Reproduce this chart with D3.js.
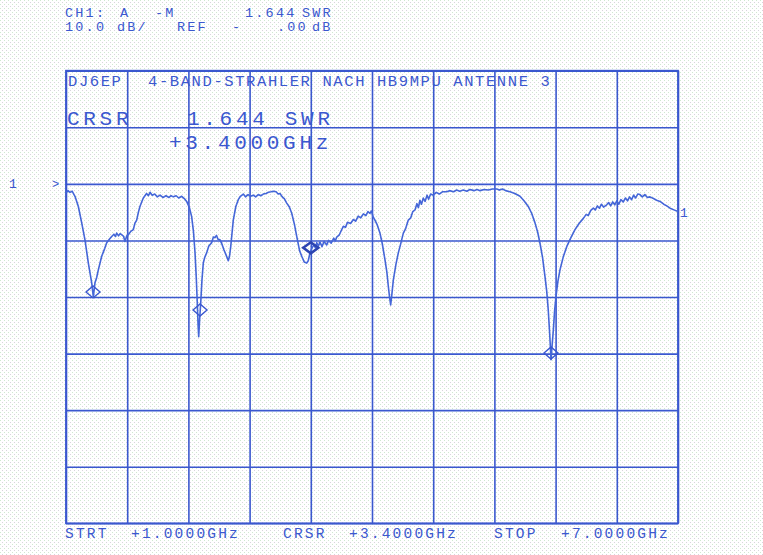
<!DOCTYPE html>
<html><head><meta charset="utf-8">
<script src="https://cdn.jsdelivr.net/npm/d3@7/dist/d3.min.js"></script>
<style>html,body{margin:0;padding:0;background:#fff;}svg{display:block;}</style>
</head><body><div id="chart"></div>
<script>
// ---- data ----
const freqGHz = [1.000,1.020,1.039,1.060,1.088,1.121,1.154,1.186,1.219,1.252,1.268,1.284,1.300,1.317,1.350,1.380,1.399,1.425,1.448,1.470,1.485,1.497,1.515,1.530,1.546,1.565,1.578,1.595,1.611,1.635,1.660,1.675,1.693,1.710,1.725,1.742,1.758,1.790,1.808,1.824,1.845,1.870,1.895,1.922,1.950,1.980,2.010,2.030,2.052,2.080,2.105,2.134,2.160,2.183,2.210,2.232,2.250,2.265,2.277,2.287,2.295,2.301,2.310,2.321,2.333,2.346,2.360,2.379,2.400,2.428,2.445,2.461,2.475,2.490,2.510,2.530,2.549,2.570,2.591,2.603,2.615,2.640,2.665,2.689,2.710,2.738,2.760,2.785,2.810,2.836,2.860,2.885,2.910,2.934,2.960,2.985,3.010,3.032,3.060,3.080,3.098,3.120,3.140,3.164,3.190,3.213,3.240,3.262,3.290,3.311,3.335,3.360,3.375,3.392,3.410,3.430,3.445,3.458,3.475,3.490,3.510,3.530,3.556,3.575,3.600,3.625,3.640,3.654,3.680,3.700,3.719,3.740,3.760,3.790,3.817,3.840,3.865,3.890,3.915,3.940,3.960,3.980,3.995,4.010,4.029,4.050,4.078,4.100,4.127,4.145,4.160,4.172,4.183,4.195,4.209,4.235,4.258,4.280,4.307,4.330,4.356,4.380,4.400,4.422,4.440,4.455,4.470,4.485,4.503,4.520,4.540,4.555,4.575,4.601,4.630,4.660,4.690,4.732,4.760,4.800,4.830,4.860,4.895,4.930,4.960,5.000,5.030,5.059,5.100,5.140,5.180,5.223,5.250,5.280,5.310,5.353,5.400,5.451,5.490,5.532,5.565,5.598,5.625,5.647,5.672,5.696,5.713,5.728,5.742,5.755,5.766,5.778,5.790,5.804,5.822,5.843,5.875,5.909,5.950,5.990,6.030,6.072,6.100,6.120,6.145,6.170,6.190,6.210,6.230,6.250,6.270,6.301,6.320,6.340,6.360,6.380,6.400,6.420,6.440,6.464,6.485,6.505,6.525,6.545,6.565,6.585,6.605,6.627,6.650,6.675,6.700,6.725,6.760,6.790,6.824,6.860,6.890,6.922,6.960,7.000];
const returnLossDb = [-1.6,-1.2,-1.5,-1.3,-2.2,-4.0,-6.9,-9.9,-14.0,-17.5,-20.0,-17.5,-16.6,-15.2,-12.8,-11.4,-10.4,-9.8,-9.3,-8.9,-9.3,-8.7,-9.2,-8.8,-9.0,-9.3,-10.2,-9.2,-9.0,-8.4,-8.1,-7.0,-6.4,-5.0,-4.0,-3.2,-2.5,-1.7,-2.1,-1.5,-2.0,-1.8,-2.3,-2.0,-2.4,-2.1,-2.4,-2.1,-2.3,-2.1,-2.5,-2.2,-2.6,-3.1,-4.2,-5.8,-8.5,-12.2,-16.5,-21.0,-25.0,-27.0,-24.0,-21.0,-17.0,-14.0,-13.0,-12.2,-11.0,-10.4,-9.4,-9.5,-9.1,-9.8,-9.9,-10.7,-11.7,-12.6,-13.6,-12.8,-11.1,-6.4,-4.0,-2.8,-2.2,-1.8,-2.3,-1.9,-2.2,-2.0,-2.3,-1.9,-2.1,-1.8,-1.7,-1.5,-1.4,-1.3,-1.4,-1.8,-1.7,-2.3,-2.6,-3.4,-4.1,-5.2,-7.2,-9.3,-11.8,-12.8,-13.8,-14.0,-13.6,-12.2,-11.4,-10.8,-11.3,-10.4,-11.0,-10.3,-11.1,-10.2,-10.8,-10.0,-10.5,-9.6,-10.1,-9.4,-9.0,-8.2,-7.5,-7.7,-6.8,-7.0,-6.3,-6.6,-5.7,-6.0,-5.3,-5.6,-4.9,-5.2,-4.8,-5.8,-6.4,-7.2,-8.7,-10.5,-13.4,-15.5,-18.1,-20.0,-21.4,-19.5,-17.0,-14.2,-12.2,-10.7,-8.7,-7.9,-6.4,-6.0,-4.9,-4.6,-3.5,-4.2,-2.9,-3.6,-2.5,-3.1,-2.0,-2.7,-1.8,-2.0,-1.5,-1.8,-1.4,-1.4,-1.2,-1.4,-1.1,-1.3,-1.1,-1.3,-1.0,-1.2,-1.0,-1.2,-1.0,-1.1,-0.9,-0.9,-1.1,-0.9,-1.2,-1.4,-1.7,-2.2,-3.0,-4.0,-5.2,-6.9,-8.6,-10.5,-13.0,-16.4,-19.0,-22.3,-26.5,-31.1,-28.5,-25.8,-22.5,-19.9,-17.3,-15.2,-12.9,-11.1,-9.5,-8.1,-7.0,-6.1,-5.4,-5.6,-4.7,-4.3,-4.6,-3.9,-4.3,-3.6,-4.1,-3.7,-3.3,-3.9,-3.2,-3.7,-3.0,-3.6,-2.8,-3.2,-2.5,-3.0,-2.3,-2.8,-2.0,-2.5,-1.8,-1.9,-2.3,-1.9,-2.4,-2.3,-2.6,-2.9,-3.1,-3.6,-3.9,-4.3,-4.6,-4.9];
const markerFreqGHz = [1.265, 2.314, 5.755];
const markerDb = [-19.1, -22.3, -29.9];
const cursorFreqGHz = 3.4;
const cursorDb = -11.3;
const xTicks = [1.0,1.6,2.2,2.8,3.4,4.0,4.6,5.2,5.8,6.4,7.0];
const yTicks = [20,10,0,-10,-20,-30,-40,-50,-60];
const headerLine1 = ["CH1:", "A", "-M", "1.644", "SWR"];
const headerLine2 = ["10.0", "dB/", "REF", "-", ".00", "dB"];
const titleTokens = ["DJ6EP", "4-BAND-STRAHLER NACH HB9MPU ANTENNE 3"];
const cursorTokens = ["CRSR", "1.644 SWR", "+3.4000GHz"];
const footerTokens = ["STRT", "+1.0000GHz", "CRSR", "+3.4000GHz", "STOP", "+7.0000GHz"];

// ---- drawing ----
const W = 763, H = 555;
const BLUE = "#3b58cf";
const FONT = "'Liberation Mono','DejaVu Sans Mono',monospace";
const svg = d3.select("#chart").append("svg").attr("width", W).attr("height", H);

const defs = svg.append("defs");
const pat = defs.append("pattern").attr("id","dots").attr("width",4).attr("height",4).attr("patternUnits","userSpaceOnUse");
pat.append("rect").attr("width",4).attr("height",4).attr("fill","#fff");
pat.append("rect").attr("x",0).attr("y",0).attr("width",1).attr("height",1).attr("fill","#cfe9cf");
pat.append("rect").attr("x",2).attr("y",2).attr("width",1).attr("height",1).attr("fill","#d8d4dc");
svg.append("rect").attr("width",W).attr("height",H).attr("fill","url(#dots)");

const L = 66, R = 678, T = 70.7, B = 523.3;
const x = d3.scaleLinear().domain([1, 7]).range([L, R]);
const y = d3.scaleLinear().domain([20, -60]).range([T, B]);

// grid via axes
const gx = svg.append("g").attr("transform", `translate(0,${B})`)
  .call(d3.axisBottom(x).tickValues(xTicks).tickSize(-(B - T)).tickFormat(""));
const gy = svg.append("g").attr("transform", `translate(${L},0)`)
  .call(d3.axisLeft(y).tickValues(yTicks).tickSize(-(R - L)).tickFormat(""));
[gx, gy].forEach(g => {
  g.select(".domain").remove();
  g.selectAll(".tick line").attr("stroke", BLUE).attr("stroke-width", 1.6);
});
svg.append("rect").attr("x", L).attr("y", T).attr("width", R - L).attr("height", B - T)
  .attr("fill", "none").attr("stroke", BLUE).attr("stroke-width", 1.8);

// trace
const pts = freqGHz.map((f, i) => [f, returnLossDb[i]]);
svg.append("path").datum(pts)
  .attr("d", d3.line().x(d => x(d[0])).y(d => y(d[1])))
  .attr("fill", "none").attr("stroke", "#4466d8").attr("stroke-width", 1.6)
  .attr("stroke-linejoin", "round");

// markers
function diamond(cx, cy, w, h) {
  return `M${cx - w/2},${cy} L${cx},${cy - h/2} L${cx + w/2},${cy} L${cx},${cy + h/2} Z`;
}
markerFreqGHz.forEach((f, i) => {
  svg.append("path").attr("d", diamond(x(f), y(markerDb[i]), 14, 12))
    .attr("fill", "none").attr("stroke", BLUE).attr("stroke-width", 1.4);
});
svg.append("path").attr("d", diamond(x(cursorFreqGHz), y(cursorDb), 15, 11))
  .attr("fill", "none").attr("stroke", "#2c44b0").attr("stroke-width", 2.6);

// texts
function txt(s, tx, ty, size, ls) {
  svg.append("text").attr("x", tx).attr("y", ty).text(s)
    .attr("font-family", FONT).attr("font-size", size).attr("letter-spacing", ls)
    .attr("fill", BLUE).attr("xml:space", "preserve").style("white-space", "pre");
}
// header
const h1x = [65, 120, 155, 245, 302];
headerLine1.forEach((s, i) => txt(s, h1x[i], 17, 13.5, 2.2));
const h2x = [65, 117, 177, 232, 277, 312];
headerLine2.forEach((s, i) => txt(s, h2x[i], 31, 13.5, 2.2));
// title inside grid
txt(titleTokens[0], 68, 86, 15.5, 1.6);
txt(titleTokens[1], 148, 86, 15.5, 1.6);
// cursor readout
txt(cursorTokens[0], 67, 125, 21, 3.7);
txt(cursorTokens[1], 187, 125, 21, 3.7);
txt(cursorTokens[2], 169, 149, 21, 3.7);
// footer
const fx = [65, 131, 283, 349, 494, 561];
footerTokens.forEach((s, i) => txt(s, fx[i], 538, 14.5, 2.2));
// reference markers
txt("1", 9, 188, 13, 0);
txt(">", 52, 188, 12, 0);
txt("1", 680, 217, 13, 0);
</script></body></html>
